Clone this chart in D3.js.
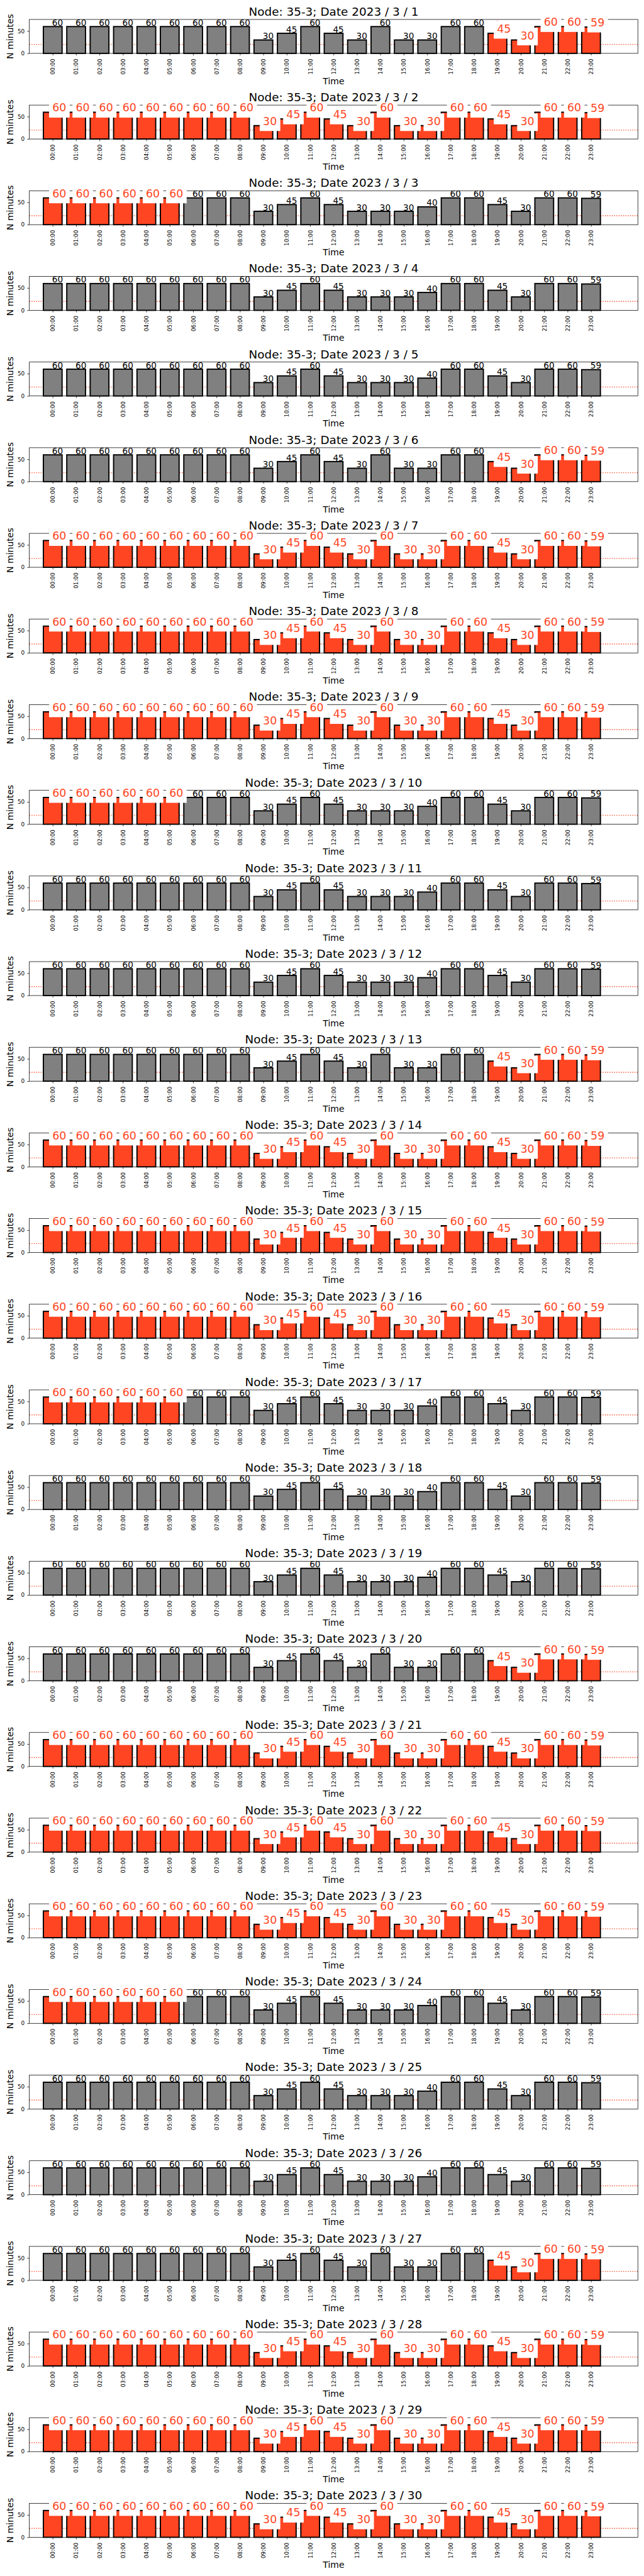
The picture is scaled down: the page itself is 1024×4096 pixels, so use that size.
<!DOCTYPE html>
<html><head><meta charset="utf-8">
<script src="https://cdn.jsdelivr.net/npm/d3@7"></script>
<style>html,body{margin:0;padding:0;background:#fff;} svg{display:block;font-family:"DejaVu Sans",sans-serif;}</style>
</head><body>
<svg id="chart" width="1024" height="4096" viewBox="0 0 1500 6000"></svg>
<script>
const node = "35-3";
const hours = ["00:00","01:00","02:00","03:00","04:00","05:00","06:00","07:00","08:00","09:00","10:00","11:00",
               "12:00","13:00","14:00","15:00","16:00","17:00","18:00","19:00","20:00","21:00","22:00","23:00"];
const dates = d3.range(1, 31).map(d => "2023 / 3 / " + d);
const yTicks = [0, 50];
const threshold = 20;
const markerDays = [1, 29];
const markerHour = 19;

// minutes per hour, one array per day
const v01 = [60,60,60,60,60,60,60,60,60,30,45,60,45,30,60,30,30,60,60,45,30,60,60,59];
const v02 = [60,60,60,60,60,60,60,60,60,30,45,60,45,30,60,30,30,60,60,45,30,60,60,59];
const v03 = [60,60,60,60,60,60,60,60,60,30,45,60,45,30,30,30,40,60,60,45,30,60,60,59];
const v04 = [60,60,60,60,60,60,60,60,60,30,45,60,45,30,30,30,40,60,60,45,30,60,60,59];
const v05 = [60,60,60,60,60,60,60,60,60,30,45,60,45,30,30,30,40,60,60,45,30,60,60,59];
const v06 = [60,60,60,60,60,60,60,60,60,30,45,60,45,30,60,30,30,60,60,45,30,60,60,59];
const v07 = [60,60,60,60,60,60,60,60,60,30,45,60,45,30,60,30,30,60,60,45,30,60,60,59];
const v08 = [60,60,60,60,60,60,60,60,60,30,45,60,45,30,60,30,30,60,60,45,30,60,60,59];
const v09 = [60,60,60,60,60,60,60,60,60,30,45,60,45,30,60,30,30,60,60,45,30,60,60,59];
const v10 = [60,60,60,60,60,60,60,60,60,30,45,60,45,30,30,30,40,60,60,45,30,60,60,59];
const v11 = [60,60,60,60,60,60,60,60,60,30,45,60,45,30,30,30,40,60,60,45,30,60,60,59];
const v12 = [60,60,60,60,60,60,60,60,60,30,45,60,45,30,30,30,40,60,60,45,30,60,60,59];
const v13 = [60,60,60,60,60,60,60,60,60,30,45,60,45,30,60,30,30,60,60,45,30,60,60,59];
const v14 = [60,60,60,60,60,60,60,60,60,30,45,60,45,30,60,30,30,60,60,45,30,60,60,59];
const v15 = [60,60,60,60,60,60,60,60,60,30,45,60,45,30,60,30,30,60,60,45,30,60,60,59];
const v16 = [60,60,60,60,60,60,60,60,60,30,45,60,45,30,60,30,30,60,60,45,30,60,60,59];
const v17 = [60,60,60,60,60,60,60,60,60,30,45,60,45,30,30,30,40,60,60,45,30,60,60,59];
const v18 = [60,60,60,60,60,60,60,60,60,30,45,60,45,30,30,30,40,60,60,45,30,60,60,59];
const v19 = [60,60,60,60,60,60,60,60,60,30,45,60,45,30,30,30,40,60,60,45,30,60,60,59];
const v20 = [60,60,60,60,60,60,60,60,60,30,45,60,45,30,60,30,30,60,60,45,30,60,60,59];
const v21 = [60,60,60,60,60,60,60,60,60,30,45,60,45,30,60,30,30,60,60,45,30,60,60,59];
const v22 = [60,60,60,60,60,60,60,60,60,30,45,60,45,30,60,30,30,60,60,45,30,60,60,59];
const v23 = [60,60,60,60,60,60,60,60,60,30,45,60,45,30,60,30,30,60,60,45,30,60,60,59];
const v24 = [60,60,60,60,60,60,60,60,60,30,45,60,45,30,30,30,40,60,60,45,30,60,60,59];
const v25 = [60,60,60,60,60,60,60,60,60,30,45,60,45,30,30,30,40,60,60,45,30,60,60,59];
const v26 = [60,60,60,60,60,60,60,60,60,30,45,60,45,30,30,30,40,60,60,45,30,60,60,59];
const v27 = [60,60,60,60,60,60,60,60,60,30,45,60,45,30,60,30,30,60,60,45,30,60,60,59];
const v28 = [60,60,60,60,60,60,60,60,60,30,45,60,45,30,60,30,30,60,60,45,30,60,60,59];
const v29 = [60,60,60,60,60,60,60,60,60,30,45,60,45,30,60,30,30,60,60,45,30,60,60,59];
const v30 = [60,60,60,60,60,60,60,60,60,30,45,60,45,30,60,30,30,60,60,45,30,60,60,59];

// highlighted (red) hour range per day, inclusive; -1 = none
const redFrom = [19,0,0,-1,-1,19,0,0,0,0,-1,-1,19,0,0,0,0,-1,-1,19,0,0,0,0,-1,-1,19,0,0,0];
const redTo   = [23,23,5,-1,-1,23,23,23,23,5,-1,-1,23,23,23,23,5,-1,-1,23,23,23,23,5,-1,-1,23,23,23,23];

const days = [v01,v02,v03,v04,v05,v06,v07,v08,v09,v10,v11,v12,v13,v14,v15,v16,v17,v18,v19,v20,v21,v22,v23,v24,v25,v26,v27,v28,v29,v30];

// ---- layout (reference pixel space 1500 x 6000) ----
const axLeft = 68.3, axRight = 1485.7, axTop0 = 45.3, period = 199.5, axH = 79;
const RED = "#ff4522", GRAY = "#808080";
const svg = d3.select("#chart");
svg.append("rect").attr("width", 1500).attr("height", 6000).attr("fill", "#fff");

const x = d3.scaleLinear().domain([-1, 25]).range([axLeft, axRight]);
const cx = (axLeft + axRight) / 2;

days.forEach((vals, d) => {
  const top = axTop0 + period * d;
  const y = d3.scaleLinear().domain([0, 76]).range([top + axH, top]);
  const g = svg.append("g");
  const isRed = i => redFrom[d] >= 0 && i >= redFrom[d] && i <= redTo[d];

  g.append("line")
    .attr("x1", axLeft).attr("x2", axRight)
    .attr("y1", y(threshold)).attr("y2", y(threshold))
    .attr("stroke", RED).attr("stroke-width", 2).attr("stroke-dasharray", "2,3.3");

  if (markerDays.includes(d + 1)) {
    g.append("line")
      .attr("x1", x(markerHour)).attr("x2", x(markerHour))
      .attr("y1", y(0)).attr("y2", y(76))
      .attr("stroke", RED).attr("stroke-width", 2).attr("stroke-dasharray", "2,3.3");
  }

  g.selectAll("rect.bar").data(vals).join("rect")
    .attr("class", "bar")
    .attr("x", (v, i) => x(i - 0.4))
    .attr("width", x(0.8) - x(0))
    .attr("y", v => y(v))
    .attr("height", v => y(0) - y(v))
    .attr("fill", (v, i) => isRed(i) ? RED : GRAY)
    .attr("stroke", "#000").attr("stroke-width", 2.8);

  g.append("rect")
    .attr("x", axLeft).attr("y", top).attr("width", axRight - axLeft).attr("height", axH)
    .attr("fill", "none").attr("stroke", "#000").attr("stroke-width", 1.1);

  const xa = g.append("g").attr("transform", `translate(0,${top + axH})`)
    .call(d3.axisBottom(x).tickValues(d3.range(24)).tickFormat(i => hours[i]).tickSize(4.9).tickSizeOuter(0));
  xa.select(".domain").remove();
  xa.selectAll(".tick line").attr("stroke", "#000").attr("stroke-width", 1.1);
  xa.selectAll(".tick text")
    .attr("transform", "rotate(-90)")
    .attr("text-anchor", "end")
    .attr("x", -12.5).attr("y", 0).attr("dy", "0.35em")
    .attr("fill", "#000")
    .style("font-family", "DejaVu Sans").style("font-size", "12.8px");

  const ya = g.append("g").attr("transform", `translate(${axLeft},0)`)
    .call(d3.axisLeft(y).tickValues(yTicks).tickSize(4.9).tickPadding(6).tickSizeOuter(0));
  ya.select(".domain").remove();
  ya.selectAll(".tick line").attr("stroke", "#000").attr("stroke-width", 1.1);
  ya.selectAll(".tick text").attr("fill", "#000")
    .style("font-family", "DejaVu Sans").style("font-size", "13px");

  vals.forEach((v, i) => {
    if (isRed(i)) {
      const lg = g.append("g");
      const r = lg.append("rect").attr("fill", "#fff");
      const tx = x(i) - 1, by = y(v) - 1.5;
      const t = lg.append("text").attr("x", tx).attr("y", by)
        .attr("fill", RED).style("font-size", "25.5px").text(v);
      const w = t.node().getComputedTextLength();
      r.attr("x", tx - 7.5).attr("y", by - 27).attr("width", w + 15.5).attr("height", 41);
    } else {
      g.append("text").attr("x", x(i) - 1.5).attr("y", y(v) - 2)
        .attr("fill", "#000").style("font-size", "20px").text(v);
    }
  });

  g.append("text").attr("transform", `translate(30.7,${top + axH / 2}) rotate(-90)`)
    .attr("text-anchor", "middle").style("font-size", "20.5px").text("N minutes");
  g.append("text").attr("x", cx).attr("y", top + axH + 71.4)
    .attr("text-anchor", "middle").style("font-size", "20.5px").text("Time");
  g.append("text").attr("x", cx).attr("y", top - 9)
    .attr("text-anchor", "middle").style("font-size", "27px").text(`Node: ${node}; Date ${dates[d]}`);
});
</script>
</body></html>
